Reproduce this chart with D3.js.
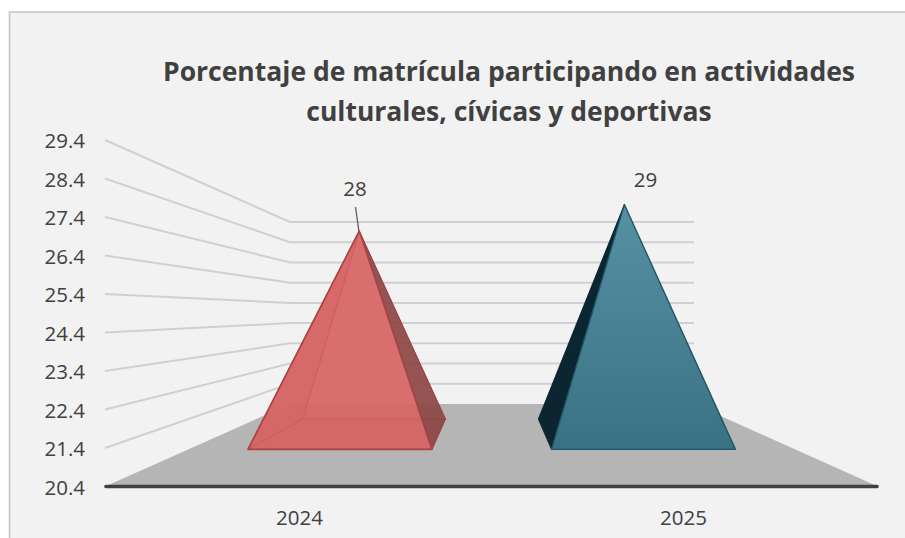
<!DOCTYPE html>
<html><head><meta charset="utf-8">
<script src="https://cdn.jsdelivr.net/npm/d3@7"></script>
<style>html,body{margin:0;padding:0;background:#fff;overflow:hidden}svg{display:block}text{font-family:"Open Sans",sans-serif}</style>
</head><body><div id="chart"></div>
<script>
const categories = ["2024","2025"];
const values = [28,29];
const dataLabels = ["28","29"];
const yTicks = [20.4,21.4,22.4,23.4,24.4,25.4,26.4,27.4,28.4,29.4];
const titleLines = ["Porcentaje de matrícula participando en actividades","culturales, cívicas y deportivas"];

const W=905,H=538;
const svg=d3.select("#chart").append("svg").attr("width",W).attr("height",H);
const defs=svg.append("defs");
const g1=defs.append("linearGradient").attr("id","blueFace").attr("x1",0).attr("y1",0).attr("x2",0).attr("y2",1);
g1.append("stop").attr("offset",0).attr("stop-color","#5691a3");
g1.append("stop").attr("offset",1).attr("stop-color","#397283");

svg.append("rect").attr("x",9.5).attr("y",12).attr("width",1000).attr("height",600).attr("fill","#f2f2f2").attr("stroke","#c6c6c6").attr("stroke-width",1.6);

// 3D projection: t = depth (0 front, 1 back wall)
const yFront=d3.scaleLinear().domain([20.4,29.4]).range([486.5,140]);
const yBack=d3.scaleLinear().domain([20.4,29.4]).range([404,222]);
const leftAt=d3.scaleLinear().domain([0,1]).range([105,290]);
const rightAt=d3.scaleLinear().domain([0,1]).range([878,694]);
const proj=(u,t,v)=>{ // u in category space [0,categories.length]
  const x=d3.scaleLinear().domain([0,categories.length]).range([leftAt(t),rightAt(t)])(u);
  const y=d3.scaleLinear().domain([0,1]).range([yFront(v),yBack(v)])(t);
  return [x,y];
};
const line=d3.line();
const poly=pts=>line(pts)+"Z";

// walls
const grid=svg.append("g");
yTicks.slice(1).forEach(v=>{
  grid.append("path").attr("d",line([proj(0,0,v),proj(0,1,v),proj(categories.length,1,v)]))
    .attr("fill","none").attr("stroke","#d0d0d0").attr("stroke-width",2);
});
// floor
const v0=yTicks[0];
svg.append("path").attr("d",poly([proj(0,0,v0),proj(2,0,v0),proj(2,1,v0),proj(0,1,v0)])).attr("fill","#b5b5b5");
svg.append("line").attr("x1",106).attr("x2",877).attr("y1",yFront(v0)).attr("y2",yFront(v0))
  .attr("stroke","#404040").attr("stroke-width",3.6).attr("stroke-linecap","round");

// pyramids
const tF=0.45,tB=0.817,tM=0.658,halfW=0.303;
const pyr=(i,v)=>{
  const c=i+0.5;
  return {
    fl:proj(c-halfW,tF,v0),fr:proj(c+halfW,tF,v0),
    bl:proj(c-halfW,tB,v0),br:proj(c+halfW,tB,v0),
    apex:proj(c,tM,v)
  };
};
// red
{
  const p=pyr(0,values[0]), g=svg.append("g");
  const face=(pts,fill,op,sw)=>g.append("path").attr("d",poly(pts)).attr("fill",fill).attr("fill-opacity",op)
     .attr("stroke","#a5403f").attr("stroke-opacity",0.85).attr("stroke-width",sw).attr("stroke-linejoin","round");
  face([p.bl,p.br,p.apex],"#c85a5a",0.6,1);
  face([p.fl,p.fr,p.br,p.bl],"#c85656",0.75,1);
  face([p.fr,p.br,p.apex],"#874848",0.85,1);
  face([p.fl,p.bl,p.apex],"#cc5c5c",0.8,1.4);
  face([p.fl,p.fr,p.apex],"#d86565",0.82,1.6);
}
// blue
{
  const p=pyr(1,values[1]), g=svg.append("g");
  g.append("path").attr("d",poly([p.fl,p.bl,p.apex])).attr("fill","#0b2630").attr("stroke","#0b2630");
  g.append("path").attr("d",poly([p.fl,p.fr,p.apex])).attr("fill","url(#blueFace)")
    .attr("stroke","#1f5566").attr("stroke-width",1.4).attr("stroke-linejoin","round");
}
// labels
const textColor="#404040", fs=20.5;
svg.append("g").selectAll("text").data(yTicks).join("text")
  .attr("x",85).attr("y",d=>yFront(d)+8).attr("text-anchor","end")
  .attr("font-size",fs).attr("fill",textColor).text(d=>d3.format(".1f")(d));
svg.append("g").selectAll("text").data(categories).join("text")
  .attr("x",(d,i)=>[299.5,683.5][i]).attr("y",525).attr("text-anchor","middle")
  .attr("font-size",fs).attr("fill",textColor).text(d=>d);
svg.append("line").attr("x1",355.5).attr("y1",207).attr("x2",359).attr("y2",232).attr("stroke","#666").attr("stroke-width",1.4);
svg.append("g").selectAll("text").data(dataLabels).join("text")
  .attr("x",(d,i)=>[355,645.5][i]).attr("y",(d,i)=>[196,186.5][i]).attr("text-anchor","middle")
  .attr("font-size",fs).attr("fill",textColor).text(d=>d);
svg.append("g").selectAll("text").data(titleLines).join("text")
  .attr("x",509).attr("y",(d,i)=>[81,120.5][i]).attr("text-anchor","middle").attr("font-weight",700)
  .attr("font-size",26.5).attr("fill",textColor).text(d=>d);
</script></body></html>
